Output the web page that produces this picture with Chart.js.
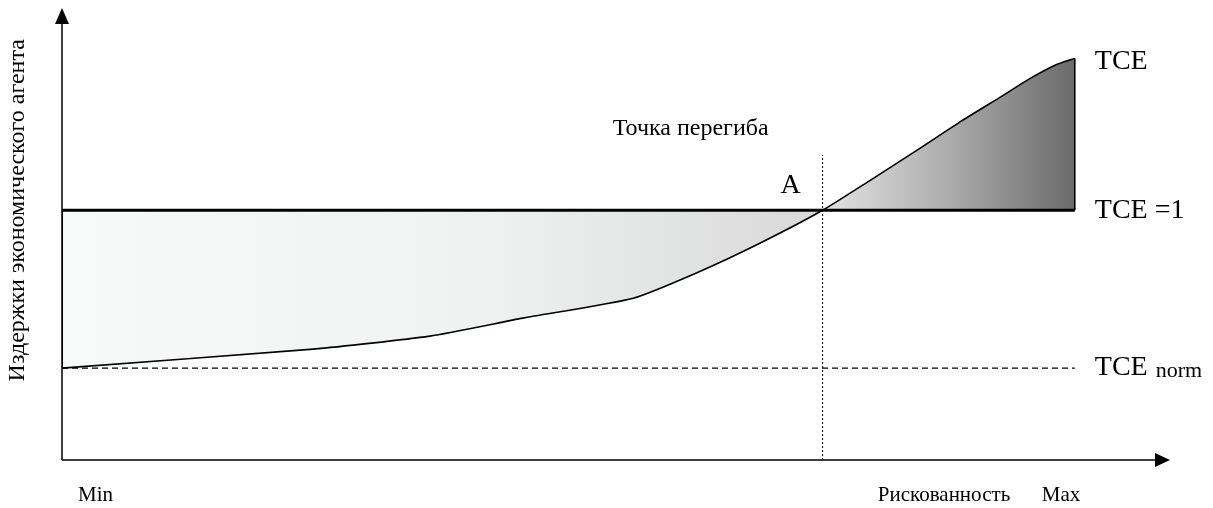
<!DOCTYPE html>
<html lang="ru">
<head>
    <meta charset="UTF-8">
    <title>TCE</title>
    <script src="https://cdn.jsdelivr.net/npm/chart.js"></script>
    <style>
        html, body { margin: 0; padding: 0; background: #ffffff; }
        #wrap { width: 1213px; height: 508px; }
    </style>
</head>
<body>
    <div id="wrap"><canvas id="chart"></canvas></div>

    <script>
        // рискованность (0 = Min, 100 = Max) и издержки TCE
        const riskX = [0, 24.8, 36.3, 45.5, 56.4, 62.8, 68.9, 75.1, 79.8, 84.7, 88.6, 92.6, 95.6, 98.0, 100];
        const tceY  = [0.368, 0.444, 0.496, 0.568, 0.648, 0.752, 0.868, 1.0, 1.12, 1.248, 1.352, 1.452, 1.528, 1.58, 1.608];
        const tceOne = 1;
        const tceNorm = 0.368;
        const inflectionX = 75.1;
        const xMin = 0, xMax = 100, xAxisEnd = 109.4;
        const yAxisEnd = 1.81;
        const dottedTop = 1.22;

        const serif = '"Liberation Serif", "DejaVu Serif", serif';
        const curve = riskX.map((x, i) => ({x: x, y: tceY[i]}));

        function grad(ctx) {
            const chart = ctx.chart;
            if (!chart.chartArea) return '#dddddd';
            const sx = chart.scales.x;
            const g = chart.ctx.createLinearGradient(sx.getPixelForValue(xMin), 0, sx.getPixelForValue(xMax), 0);
            const a = inflectionX / xMax;
            g.addColorStop(0, '#f8f9f9');
            g.addColorStop(a * 0.55, '#f0f1f1');
            g.addColorStop(a, '#d8d8d8');
            g.addColorStop(a + 0.005, '#e2e2e2');
            g.addColorStop(a + (1 - a) * 0.5, '#acacac');
            g.addColorStop(1, '#6a6a6a');
            return g;
        }

        const decor = {
            id: 'decor',
            afterDatasetsDraw(chart) {
                const c = chart.ctx;
                const sx = chart.scales.x, sy = chart.scales.y;
                const x0 = sx.getPixelForValue(0), yb = sy.getPixelForValue(0);
                const xe = sx.getPixelForValue(xAxisEnd), ye = sy.getPixelForValue(yAxisEnd);
                c.save();
                c.strokeStyle = '#000'; c.fillStyle = '#000'; c.lineWidth = 1.5;
                c.beginPath();
                c.moveTo(x0, yb); c.lineTo(x0, ye + 14);
                c.moveTo(x0, yb); c.lineTo(xe - 14, yb);
                c.stroke();
                c.beginPath();
                c.moveTo(x0, ye); c.lineTo(x0 - 7, ye + 16); c.lineTo(x0 + 7, ye + 16); c.closePath(); c.fill();
                c.beginPath();
                c.moveTo(xe, yb); c.lineTo(xe - 15, yb - 7); c.lineTo(xe - 15, yb + 7); c.closePath(); c.fill();

                const xr = sx.getPixelForValue(xMax) + 20;
                c.textBaseline = 'middle'; c.textAlign = 'left';
                c.font = '28px ' + serif;
                c.fillText('TCE', xr, sy.getPixelForValue(tceY[tceY.length - 1]) + 3);
                c.fillText('TCE =1', xr, sy.getPixelForValue(tceOne));
                c.fillText('TCE', xr, sy.getPixelForValue(tceNorm));
                const w = c.measureText('TCE').width;
                c.font = '22px ' + serif;
                c.fillText('norm', xr + w + 8, sy.getPixelForValue(tceNorm) + 3);

                const xa = sx.getPixelForValue(inflectionX);
                c.font = '28px ' + serif; c.textAlign = 'right';
                c.fillText('A', xa - 22, sy.getPixelForValue(tceOne) - 25);
                c.font = '24px ' + serif;
                c.fillText('Точка перегиба', xa - 54, sy.getPixelForValue(dottedTop) - 27);

                c.font = '21px ' + serif; c.textAlign = 'left';
                c.fillText('Min', x0 + 16, yb + 35);
                c.fillText('Рискованность', sx.getPixelForValue(xMax) - 197, yb + 35);
                c.fillText('Max', sx.getPixelForValue(xMax) - 33, yb + 35);

                c.translate(18, sy.getPixelForValue(tceOne));
                c.rotate(-Math.PI / 2);
                c.textAlign = 'center';
                c.font = '24px ' + serif;
                c.fillText('Издержки экономического агента', 0, 0);
                c.restore();
            }
        };

        new Chart(document.getElementById('chart'), {
            type: 'scatter',
            data: {
                datasets: [
                    {
                        // кривая TCE, закрашенная до линии TCE = 1
                        data: curve, showLine: true, fill: 1, pointRadius: 0, order: 5,
                        tension: 0.2,
                        borderColor: '#000', borderWidth: 1.6,
                        backgroundColor: grad
                    },
                    {
                        data: [{x: xMin, y: tceOne}, {x: xMax, y: tceOne}], showLine: true, fill: false,
                        pointRadius: 0, borderColor: '#000', borderWidth: 3, order: 1
                    },
                    {
                        data: [{x: xMin, y: tceNorm}, {x: xMin, y: tceOne}], showLine: true, fill: false,
                        pointRadius: 0, borderColor: '#000', borderWidth: 2, order: 1
                    },
                    {
                        data: [{x: xMax, y: tceOne}, {x: xMax, y: tceY[tceY.length - 1]}], showLine: true, fill: false,
                        pointRadius: 0, borderColor: '#000', borderWidth: 1.6, order: 1
                    },
                    {
                        data: [{x: xMin, y: tceNorm}, {x: xMax, y: tceNorm}], showLine: true, fill: false,
                        pointRadius: 0, borderColor: '#000', borderWidth: 1.2, borderDash: [6, 4], order: 2
                    },
                    {
                        data: [{x: inflectionX, y: 0}, {x: inflectionX, y: dottedTop}], showLine: true, fill: false,
                        pointRadius: 0, borderColor: '#000', borderWidth: 1, borderDash: [2, 2], order: 2
                    }
                ]
            },
            options: {
                responsive: true,
                maintainAspectRatio: false,
                animation: false,
                layout: {padding: {left: 62, right: 43, top: 8, bottom: 48}},
                plugins: {legend: {display: false}, tooltip: {enabled: false}},
                scales: {
                    x: {type: 'linear', min: 0, max: xAxisEnd, display: false},
                    y: {type: 'linear', min: 0, max: yAxisEnd, display: false}
                }
            },
            plugins: [decor]
        });
    </script>
</body>
</html>
